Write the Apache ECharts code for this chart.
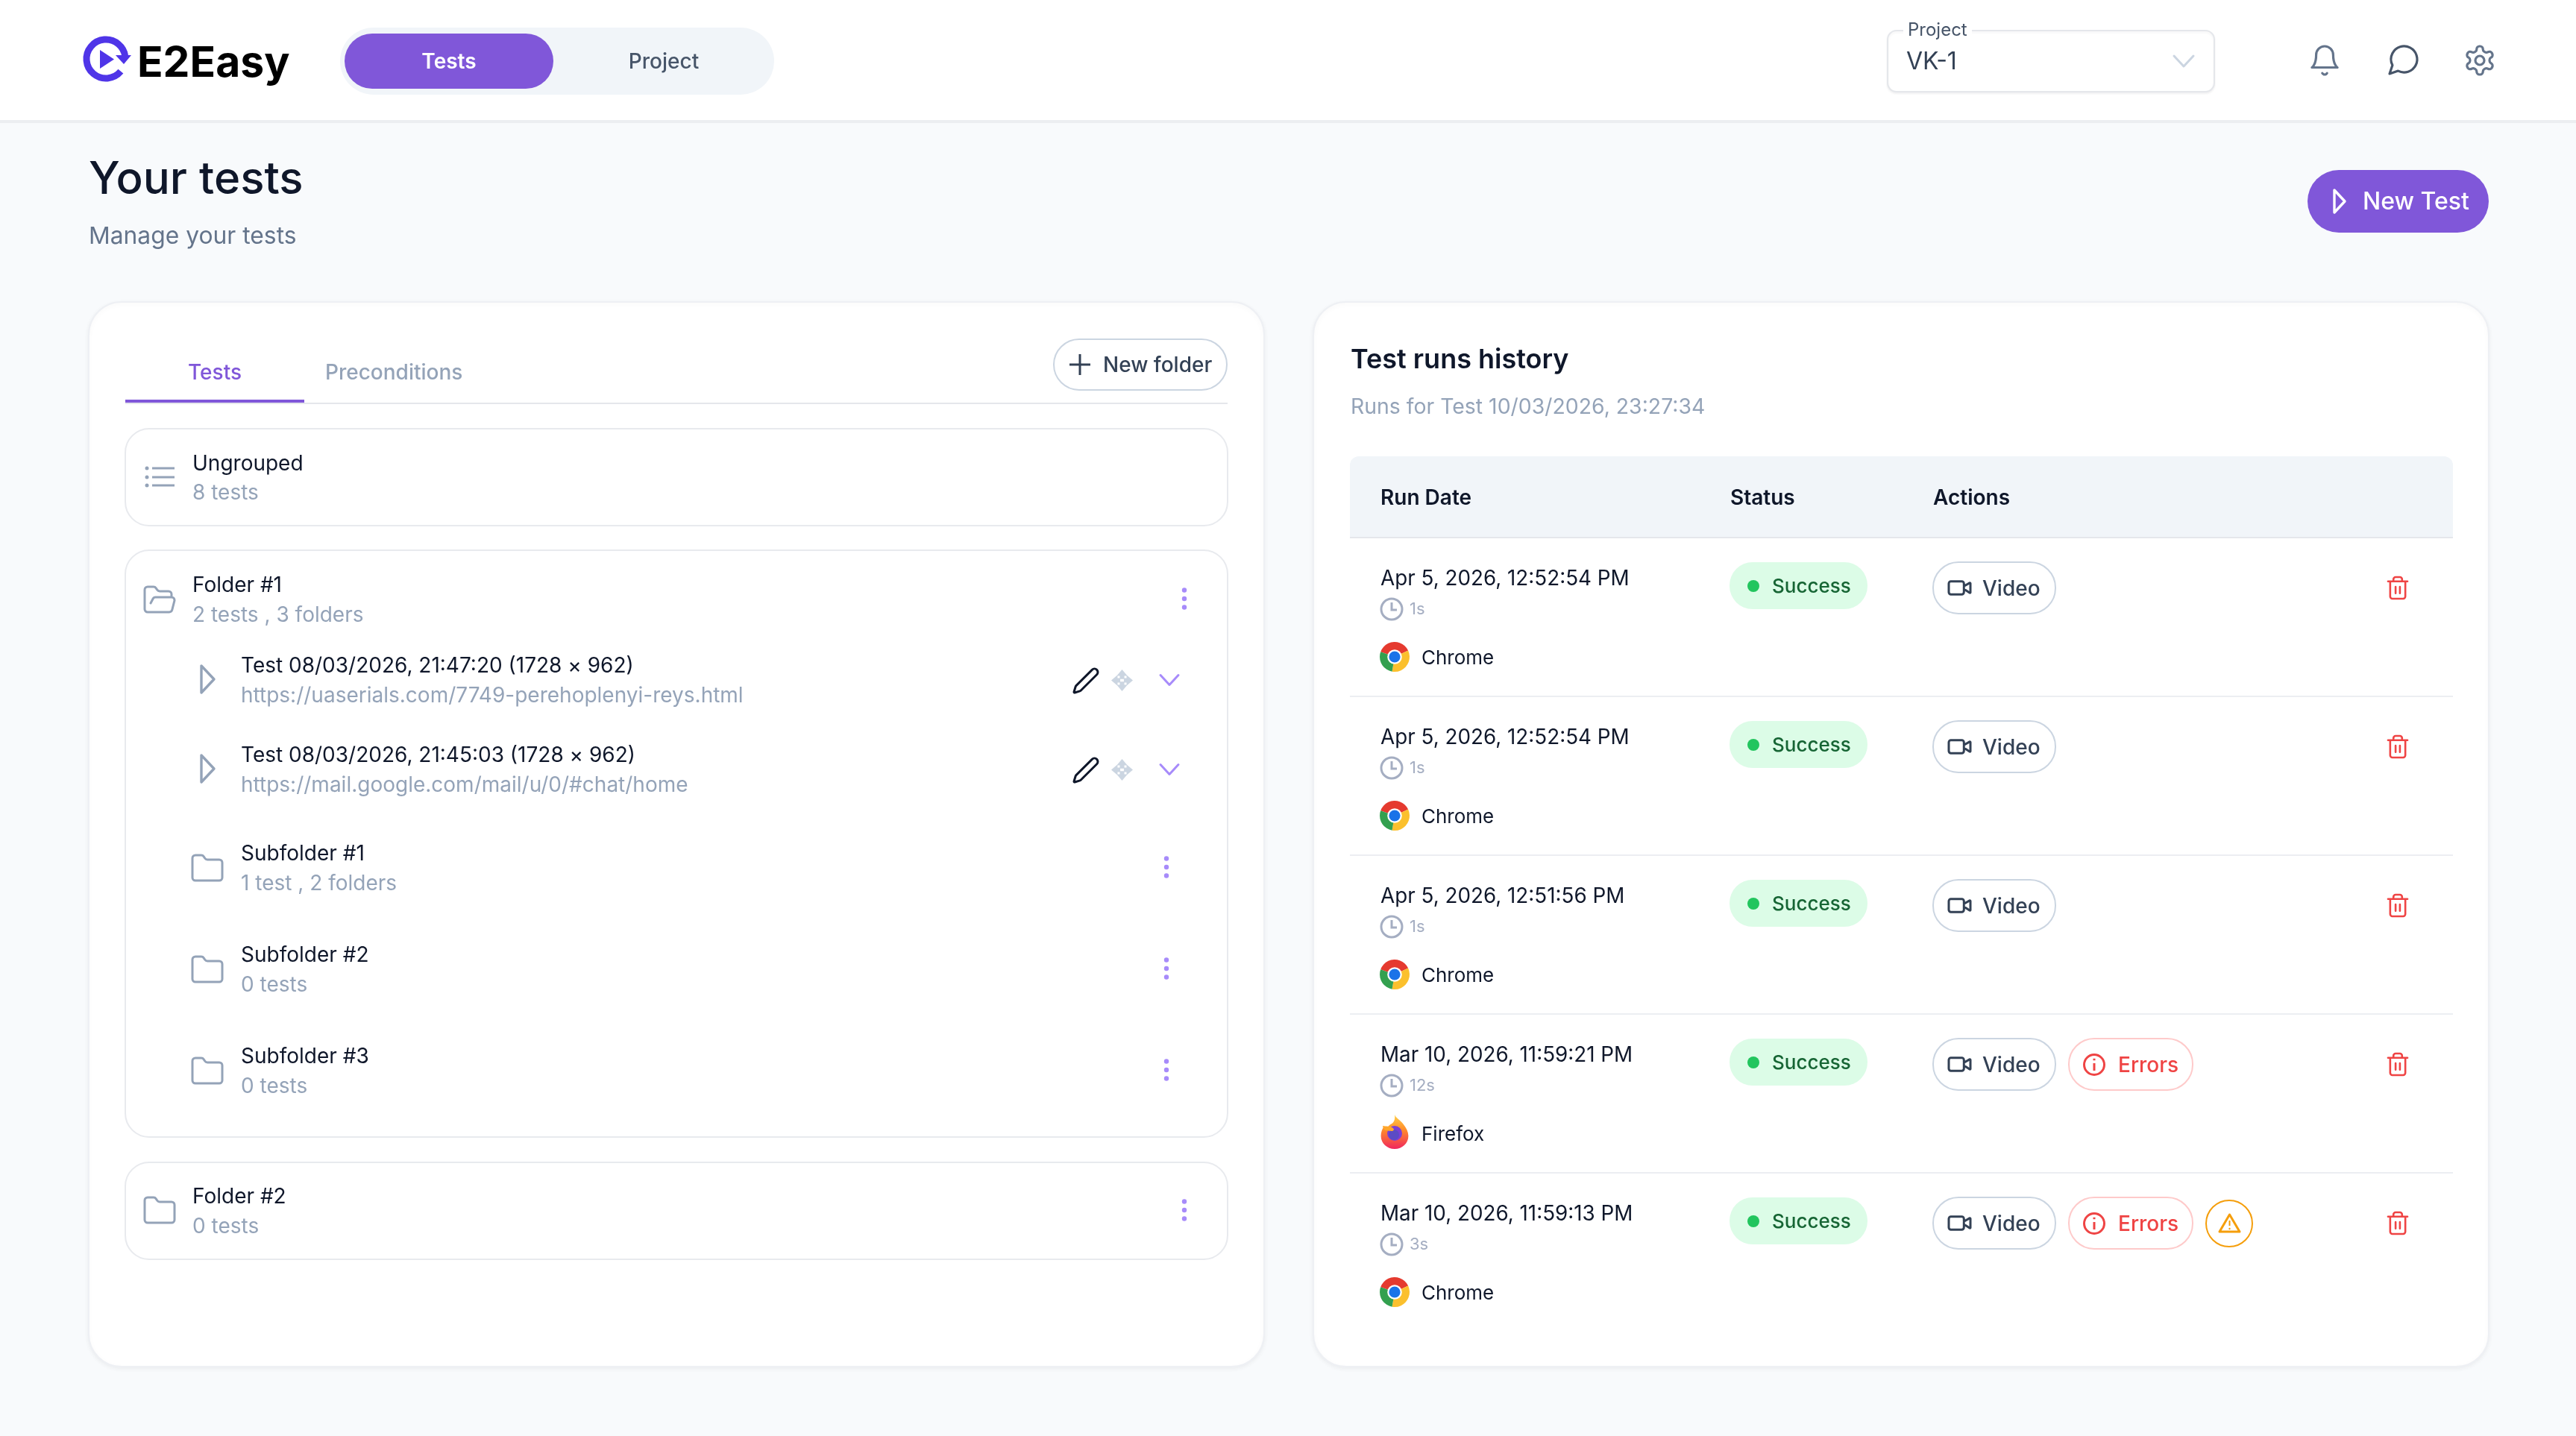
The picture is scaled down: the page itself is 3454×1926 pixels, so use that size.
<!DOCTYPE html>
<html>
<head>
<meta charset="utf-8">
<style>
html, body { margin: 0; padding: 0; background: #f8fafc; }
#main { width: 3454px; height: 1926px; }
</style>
<script src="https://cdn.jsdelivr.net/npm/echarts@6/dist/echarts.min.js"></script>
</head>
<body>
<div id="main"></div>
<script>
// page text
const brandName = 'E2Easy';
const navTabs = ['Tests', 'Project'];
const projectLabel = 'Project';
const projectValue = 'VK-1';
const pageTitle = 'Your tests';
const pageSubtitle = 'Manage your tests';
const newTestLabel = 'New Test';
const panelTabs = ['Tests', 'Preconditions'];
const newFolderLabel = 'New folder';

// left panel
const ungroupedName = 'Ungrouped';
const ungroupedCount = '8 tests';
const folderNames = ['Folder #1', 'Folder #2'];
const folderCounts = ['2 tests , 3 folders', '0 tests'];
const testTitles = ['Test 08/03/2026, 21:47:20 (1728 × 962)', 'Test 08/03/2026, 21:45:03 (1728 × 962)'];
const testUrls = ['https://uaserials.com/7749-perehoplenyi-reys.html', 'https://mail.google.com/mail/u/0/#chat/home'];
const subfolderNames = ['Subfolder #1', 'Subfolder #2', 'Subfolder #3'];
const subfolderCounts = ['1 test , 2 folders', '0 tests', '0 tests'];

// right panel
const historyTitle = 'Test runs history';
const historySubtitle = 'Runs for Test 10/03/2026, 23:27:34';
const tableHeaders = ['Run Date', 'Status', 'Actions'];
const runDates = ['Apr 5, 2026, 12:52:54 PM', 'Apr 5, 2026, 12:52:54 PM', 'Apr 5, 2026, 12:51:56 PM', 'Mar 10, 2026, 11:59:21 PM', 'Mar 10, 2026, 11:59:13 PM'];
const runDurations = ['1s', '1s', '1s', '12s', '3s'];
const runBrowsers = ['Chrome', 'Chrome', 'Chrome', 'Firefox', 'Chrome'];
const runStatuses = ['Success', 'Success', 'Success', 'Success', 'Success'];
const runHasErrors = [false, false, false, true, true];
const runHasWarning = [false, false, false, false, true];

// icon shapes, lucide style 24 box
const icons = {
  bell: 'M6 8a6 6 0 0 1 12 0c0 7 3 9 3 9H3s3-2 3-9M10.3 21a1.94 1.94 0 0 0 3.4 0',
  chat: 'M7.9 20A9 9 0 1 0 4 16.1L2 22Z',
  gear: 'M12.22 2h-.44a2 2 0 0 0-2 2v.18a2 2 0 0 1-1 1.73l-.43.25a2 2 0 0 1-2 0l-.15-.08a2 2 0 0 0-2.73.73l-.22.38a2 2 0 0 0 .73 2.73l.15.1a2 2 0 0 1 1 1.72v.51a2 2 0 0 1-1 1.74l-.15.09a2 2 0 0 0-.73 2.73l.22.38a2 2 0 0 0 2.73.73l.15-.08a2 2 0 0 1 2 0l.43.25a2 2 0 0 1 1 1.73V20a2 2 0 0 0 2 2h.44a2 2 0 0 0 2-2v-.18a2 2 0 0 1 1-1.73l.43-.25a2 2 0 0 1 2 0l.15.08a2 2 0 0 0 2.73-.73l.22-.39a2 2 0 0 0-.73-2.73l-.15-.08a2 2 0 0 1-1-1.74v-.5a2 2 0 0 1 1-1.74l.15-.09a2 2 0 0 0 .73-2.73l-.22-.38a2 2 0 0 0-2.73-.73l-.15.08a2 2 0 0 1-2 0l-.43-.25a2 2 0 0 1-1-1.73V4a2 2 0 0 0-2-2z',
  folder: 'M20 20a2 2 0 0 0 2-2V8a2 2 0 0 0-2-2h-7.9a2 2 0 0 1-1.69-.9L9.6 3.9A2 2 0 0 0 7.93 3H4a2 2 0 0 0-2 2v13a2 2 0 0 0 2 2Z',
  folderOpen: 'm6 14 1.5-2.9A2 2 0 0 1 9.24 10H20a2 2 0 0 1 1.94 2.5l-1.54 6a2 2 0 0 1-1.95 1.5H4a2 2 0 0 1-2-2V5a2 2 0 0 1 2-2h3.9a2 2 0 0 1 1.69.9l.81 1.2a2 2 0 0 0 1.67.9H18a2 2 0 0 1 2 2v2',
  pencil: 'M21.174 6.812a1 1 0 0 0-3.986-3.987L3.842 16.174a2 2 0 0 0-.5.83l-1.321 4.352a.5.5 0 0 0 .623.622l4.353-1.32a2 2 0 0 0 .83-.497z',
  video: 'M16 13l5.223 3.482a.5.5 0 0 0 .777-.416V7.87a.5.5 0 0 0-.752-.432L16 10.5M4 6h10a2 2 0 0 1 2 2v8a2 2 0 0 1-2 2H4a2 2 0 0 1-2-2V8a2 2 0 0 1 2-2z',
  trash: 'M3 6h18M19 6v14a2 2 0 0 1-2 2H7a2 2 0 0 1-2-2V6M8 6V4a2 2 0 0 1 2-2h4a2 2 0 0 1 2 2v2M10 11v6M14 11v6',
  move: 'M12 0l6 7h-3.5v3.5h-5V7H6zM12 24l-6-7h3.5v-3.5h5V17H18zM0 12l7-6v3.5h3v5H7V18zM24 12l-7 6v-3.5h-3v-5h3V6z',
  fox: 'M20 0c2 5 8 8 12 13 5 6 8 12 8 18 0 11-9 19-20 19S0 42 0 31c0-6 2-10 4-13 1 2 2 3 4 4 1-4 4-7 8-9 3-2 5-6 4-13z',
  foxTail: 'M0 0c4 1 10 0 14 3 3 2 0 5-3 4-3 0-6 0-8-1-2-2-3-4-3-6z'
};

const FONT = 'Inter';
const PURPLE = '#8057d9';
const els = [];

// the graphic component has no plain path type, so each icon is registered as a shape
const iconBounds = {};
Object.keys(icons).forEach(function (name) {
  echarts.graphic.registerShape('icon_' + name, echarts.graphic.extendPath(icons[name], {}));
  iconBounds[name] = echarts.graphic.makePath(icons[name]).getBoundingRect();
});

function text(x, y, str, size, fill, weight, align) {
  els.push({ type: 'text', silent: true, style: {
    x: x, y: y + 4, text: str, fill: fill, align: align || 'left', verticalAlign: 'middle',
    fontFamily: FONT, fontSize: size, fontWeight: weight || 400
  } });
}
function box(x, y, w, h, r, fill, stroke, lw, shadow) {
  const style = { fill: fill || 'transparent', stroke: stroke || null, lineWidth: lw || 0 };
  if (shadow) { style.shadowColor = 'rgba(15,23,42,0.05)'; style.shadowBlur = shadow; style.shadowOffsetY = 2; }
  els.push({ type: 'rect', silent: true, shape: { x: x, y: y, width: w, height: h, r: r }, style: style });
}
function hline(x1, x2, y, color, lw) {
  els.push({ type: 'line', silent: true, shape: { x1: x1, y1: y, x2: x2, y2: y }, style: { stroke: color, lineWidth: lw || 2 } });
}
function circle(cx, cy, r, fill, stroke, lw) {
  els.push({ type: 'circle', silent: true, shape: { cx: cx, cy: cy, r: r }, style: { fill: fill || 'transparent', stroke: stroke || null, lineWidth: lw || 0 } });
}
function icon(name, x, y, w, h, color, lw, filled) {
  const b = iconBounds[name];
  const s = Math.min(w / b.width, h / b.height);
  els.push({ type: 'icon_' + name, silent: true, shape: {},
    x: x + (w - b.width * s) / 2 - b.x * s,
    y: y + (h - b.height * s) / 2 - b.y * s,
    scaleX: s, scaleY: s,
    style: { fill: filled ? color : 'transparent', stroke: filled ? null : color, lineWidth: (lw || 0) / s, lineJoin: 'round', lineCap: 'round' } });
}
function poly(points, fill, stroke, lw) {
  els.push({ type: 'polygon', silent: true, shape: { points: points }, style: { fill: fill || 'transparent', stroke: stroke || null, lineWidth: lw || 0, lineJoin: 'round' } });
}
function chevron(cx, cy, w, h, color, lw) {
  els.push({ type: 'polyline', silent: true, shape: { points: [[cx - w / 2, cy - h / 2], [cx, cy + h / 2], [cx + w / 2, cy - h / 2]] },
    style: { fill: null, stroke: color, lineWidth: lw, lineCap: 'round', lineJoin: 'round' } });
}
function dots(cx, cy) {
  [-11.5, 0, 11.5].forEach(function (d) { circle(cx, cy + d, 3.2, '#a78bfa'); });
}
function sector(cx, cy, r, a0, a1, fill) {
  els.push({ type: 'sector', silent: true, shape: { cx: cx, cy: cy, r: r, r0: 0, startAngle: a0 * Math.PI / 180, endAngle: a1 * Math.PI / 180 }, style: { fill: fill } });
}
function chromeIcon(cx, cy) {
  sector(cx, cy, 20, -160, -25, '#e53a2f');
  sector(cx, cy, 20, -25, 100, '#fbc02d');
  sector(cx, cy, 20, 100, 200, '#33a04f');
  circle(cx, cy, 9.8, '#ffffff');
  circle(cx, cy, 7.6, '#1a73e8');
}
function firefoxIcon(cx, cy) {
  const before = els.length;
  icon('fox', cx - 20, cy - 26, 40, 46, '#ff8a2a', 0, true);
  els[before].style.fill = { type: 'linear', x: 0, y: 0, x2: 0, y2: 1, colorStops: [{ offset: 0, color: '#ffd24a' }, { offset: 0.45, color: '#ff8a2a' }, { offset: 1, color: '#f0265f' }] };
  circle(cx, cy - 1, 10, '#7b3fd6');
  circle(cx - 1, cy + 1, 7, '#5b4bc4');
  icon('foxTail', cx - 17, cy - 11, 17, 7, '#ffa62b', 0, true);
}

// header
box(0, 0, 3454, 162, 0, '#ffffff');
hline(0, 3454, 163, '#eceef1', 4);
els.push({ type: 'arc', silent: true, shape: { cx: 142, cy: 79, r: 26, startAngle: 40 * Math.PI / 180, endAngle: -10 * Math.PI / 180, clockwise: true },
  style: { fill: null, stroke: '#4f35e8', lineWidth: 9 } });
poly([[155, 74], [176, 74], [166, 86]], '#4f35e8');
poly([[134, 67], [134, 92], [153, 79.5]], '#4f35e8');
text(184, 82, brandName, 57, '#000000', 700);

box(456, 37, 582, 90, 45, '#f1f5f9');
box(462, 45, 280, 74, 37, PURPLE);
text(602, 80, navTabs[0], 28, '#ffffff', 600, 'center');
text(890, 80, navTabs[1], 28, '#475569', 500, 'center');

box(2531, 41, 438, 82, 12, '#ffffff', '#e5e7eb', 2, 3);
box(2552, 34, 92, 12, 0, '#ffffff');
text(2558, 37, projectLabel, 24, '#475569', 400);
text(2556, 79, projectValue, 32, '#334155', 400);
chevron(2928, 82, 26, 14, '#cbd5e1', 3);
icon('bell', 3099, 62, 36, 38, '#64748b', 3.2);
icon('chat', 3204, 62, 37, 37, '#475569', 3.2);
icon('gear', 3306, 62, 38, 38, '#64748b', 3.2);
circle(3325, 81, 6, null, '#64748b', 3.2);

// page heading
text(119, 238, pageTitle, 60, '#0f172a', 550);
text(119, 313, pageSubtitle, 31.8, '#64748b', 400);
box(3094, 228, 243, 84, 42, PURPLE);
poly([[3130, 255], [3130, 285], [3144, 270]], null, '#ffffff', 3.4);
text(3168, 267, newTestLabel, 32, '#ffffff', 500);

// left panel
box(119, 405, 1576, 1428, 44, '#ffffff', '#eef0f4', 2, 6);
text(288, 497, panelTabs[0], 28, PURPLE, 500, 'center');
text(436, 497, panelTabs[1], 28, '#94a3b8', 500);
hline(168, 1646, 541, '#e5e7eb', 2);
box(168, 536, 240, 4, 0, PURPLE);
box(1413, 455, 232, 68, 34, '#ffffff', '#cbd5e1', 2);
hline(1434, 1462, 489, '#334155', 3);
els.push({ type: 'line', silent: true, shape: { x1: 1448, y1: 475, x2: 1448, y2: 503 }, style: { stroke: '#334155', lineWidth: 3 } });
text(1479, 487, newFolderLabel, 28, '#334155', 500);

const TITLE_COLOR = '#0f172a';
const MUTED = '#94a3b8';
function nameBlock(x, y1, y2, title, sub) {
  text(x, y1 - 2, title, 28, TITLE_COLOR, 400);
  text(x, y2 - 2, sub, 28, MUTED, 400);
}

box(168, 575, 1478, 130, 32, '#ffffff', '#e8eaee', 2);
[628, 640, 651].forEach(function (y) {
  circle(197, y, 2.5, MUTED);
  hline(204, 234, y, MUTED, 3);
});
nameBlock(258, 621, 660, ungroupedName, ungroupedCount);

box(168, 738, 1478, 787, 32, '#ffffff', '#e8eaee', 2);
icon('folderOpen', 194, 786, 40, 36, MUTED, 3);
nameBlock(258, 784, 824, folderNames[0], folderCounts[0]);
dots(1588, 803);

testTitles.forEach(function (title, i) {
  const y = 892 + i * 120;
  poly([[270, y + 1], [270, y + 37], [287, y + 19]], null, MUTED, 3.4);
  nameBlock(323, y, y + 40, title, testUrls[i]);
  icon('pencil', 1440, y + 5, 32, 32, TITLE_COLOR, 3);
  icon('move', 1490, y + 6, 29, 29, '#cbd5e1', 0, true);
  chevron(1568, y + 20, 24, 13, '#a78bfa', 3);
});

subfolderNames.forEach(function (name, i) {
  const y = 1144 + i * 136;
  icon('folder', 258, y + 2, 40, 36, MUTED, 3);
  nameBlock(323, y, y + 40, name, subfolderCounts[i]);
  dots(1564, y + 19);
});

box(168, 1559, 1478, 130, 32, '#ffffff', '#e8eaee', 2);
icon('folder', 194, 1605, 40, 36, MUTED, 3);
nameBlock(258, 1604, 1644, folderNames[1], folderCounts[1]);
dots(1588, 1623);

// right panel
box(1761, 405, 1576, 1428, 44, '#ffffff', '#eef0f4', 2, 6);
text(1811, 479, historyTitle, 36, TITLE_COLOR, 600);
text(1811, 542, historySubtitle, 28.4, MUTED, 400);
box(1810, 612, 1479, 109, [12, 12, 0, 0], '#f1f5f9');
hline(1810, 3289, 721, '#e5e7eb', 2);
text(1851, 665, tableHeaders[0], 28, TITLE_COLOR, 600);
text(2320, 665, tableHeaders[1], 28, TITLE_COLOR, 600);
text(2592, 665, tableHeaders[2], 28, TITLE_COLOR, 600);

const ROW_H = 213;
runDates.forEach(function (date, i) {
  const top = 721 + i * ROW_H;
  text(1851, top + 52, date, 27.8, TITLE_COLOR, 400);

  circle(1866, top + 96, 14, null, '#a5aec2', 3);
  els.push({ type: 'polyline', silent: true, shape: { points: [[1866, top + 87], [1866, top + 97], [1873, top + 97]] }, style: { fill: null, stroke: '#a5aec2', lineWidth: 3 } });
  text(1890, top + 92, runDurations[i], 22, '#a5aec2', 400);

  if (runBrowsers[i] === 'Firefox') firefoxIcon(1870, top + 161);
  else chromeIcon(1870, top + 160);
  text(1906, top + 158, runBrowsers[i], 26, TITLE_COLOR, 400);

  box(2319, top + 33, 185, 63, 31, '#dcfce7');
  circle(2351, top + 65, 8, '#22c55e');
  text(2376, top + 62, runStatuses[i], 26, '#166534', 500);

  box(2592, top + 33, 164, 69, 34, '#ffffff', '#cbd5e1', 2);
  icon('video', 2613, top + 53, 29, 29, '#334155', 3);
  text(2658, top + 66, 'Video', 28, '#334155', 500);

  if (runHasErrors[i]) {
    box(2774, top + 33, 166, 69, 34, '#ffffff', '#fecaca', 2);
    circle(2808, top + 68, 13.5, null, '#ef4444', 3);
    hline(2806.5, 2809.5, top + 61, '#ef4444', 2.5);
    els.push({ type: 'line', silent: true, shape: { x1: 2808, y1: top + 66, x2: 2808, y2: top + 76 }, style: { stroke: '#ef4444', lineWidth: 3 } });
    text(2840, top + 66, 'Errors', 28, '#ef4444', 500);
  }
  if (runHasWarning[i]) {
    circle(2989, top + 68, 31, '#ffffff', '#f59e0b', 2);
    poly([[2989.5, top + 56], [3003, top + 79], [2976, top + 79]], null, '#f59e0b', 3);
    els.push({ type: 'line', silent: true, shape: { x1: 2989.5, y1: top + 64, x2: 2989.5, y2: top + 71 }, style: { stroke: '#f59e0b', lineWidth: 2 } });
    circle(2989.5, top + 75, 1.2, '#f59e0b');
  }
  icon('trash', 3201, top + 53, 28, 29, '#ef4444', 2.6);
  if (i < runDates.length - 1) hline(1810, 3289, top + ROW_H, '#eceef2', 2);
});

const chart = echarts.init(document.getElementById('main'), null, { devicePixelRatio: 1 });
chart.setOption({
  backgroundColor: '#f8fafc',
  animation: false,
  graphic: { elements: els }
});
</script>
</body>
</html>
